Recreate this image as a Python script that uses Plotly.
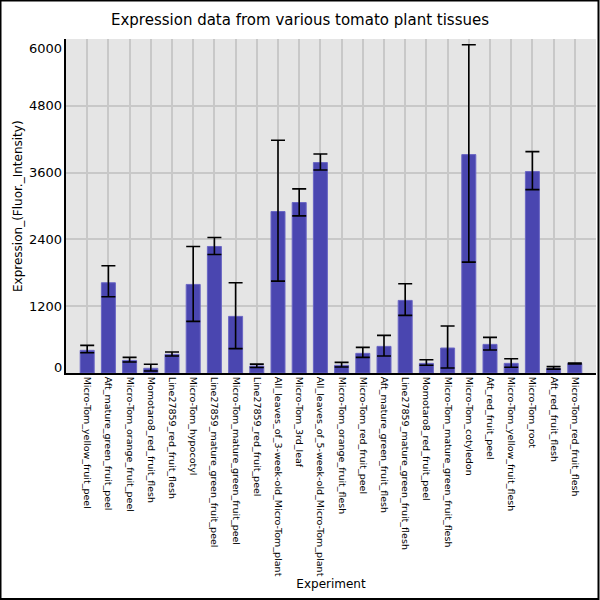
import plotly.graph_objects as go

EXPERIMENTS = [
    "Micro-Tom_yellow_fruit_peel",
    "Aft_mature_green_fruit_peel",
    "Micro-Tom_orange_fruit_peel",
    "Momotaro8_red_fruit_flesh",
    "Line27859_red_fruit_flesh",
    "Micro-Tom_hypocotyl",
    "Line27859_mature_green_fruit_peel",
    "Micro-Tom_mature_green_fruit_peel",
    "Line27859_red_fruit_peel",
    "All_leaves_of_3-week-old_Micro-Tom_plant",
    "Micro-Tom_3rd_leaf",
    "All_leaves_of_5-week-old_Micro-Tom_plant",
    "Micro-Tom_orange_fruit_flesh",
    "Micro-Tom_red_fruit_peel",
    "Aft_mature_green_fruit_flesh",
    "Line27859_mature_green_fruit_flesh",
    "Momotaro8_red_fruit_peel",
    "Micro-Tom_mature_green_fruit_flesh",
    "Micro-Tom_cotyledon",
    "Aft_red_fruit_peel",
    "Micro-Tom_yellow_fruit_flesh",
    "Micro-Tom_root",
    "Aft_red_fruit_flesh",
    "Micro-Tom_red_fruit_flesh",
]

# mean expression and the top / bottom of each error bar
EXPRESSION = [407, 1621, 227, 84, 335, 1591, 2273, 1017, 125, 2901, 3062, 3780,
              138, 353, 478, 1304, 173, 449, 3923, 514, 173, 3618, 80, 173]
ERR_HIGH = [496, 1926, 281, 156, 377, 2273, 2434, 1621, 160, 4181, 3307, 3935,
            191, 461, 676, 1603, 239, 843, 5897, 640, 257, 3977, 115, 180]
ERR_LOW = [365, 1370, 197, 36, 305, 927, 2129, 437, 100, 1651, 2823, 3648,
           108, 281, 305, 1035, 138, 90, 1992, 413, 102, 3295, 70, 162]

Y_TICKS = [0, 1200, 2400, 3600, 4800, 6000]

FONT = "DejaVu Sans"

fig = go.Figure()

fig.add_trace(go.Bar(
    x=EXPERIMENTS,
    y=EXPRESSION,
    width=0.66,
    marker=dict(color="#4a46b0", line=dict(color="#6a66c4", width=1)),
    error_y=dict(
        type="data",
        symmetric=False,
        array=[h - v for h, v in zip(ERR_HIGH, EXPRESSION)],
        arrayminus=[v - l for v, l in zip(EXPRESSION, ERR_LOW)],
        color="black",
        thickness=1.6,
        width=7,
    ),
    showlegend=False,
))

# y tick labels: end labels sit inside the plot range, like the original
shifts = {0: 6, 6000: -9}
for t in Y_TICKS:
    fig.add_annotation(
        x=0, xref="paper", y=t, yref="y",
        text=str(t), showarrow=False,
        xanchor="right", xshift=-2, yshift=shifts.get(t, 0),
        font=dict(family=FONT, size=13, color="black"),
    )

fig.add_annotation(
    x=-48 / 530, xref="paper", y=0.5, yref="paper",
    xanchor="center", yanchor="middle",
    text="Expression_(Fluor._Intensity)", showarrow=False, textangle=-90,
    font=dict(family=FONT, size=12, color="black"),
)

# figure frame
fig.add_shape(
    type="rect", xref="paper", yref="paper",
    x0=(0.5 - 66) / 530, x1=(598.5 - 66) / 530,
    y0=-(227 - 1) / 334, y1=1 + (39 - 0.5) / 334,
    line=dict(color="black", width=2), fillcolor="rgba(0,0,0,0)",
)

fig.update_xaxes(
    range=[-1, 24],
    tickangle=90,
    tickfont=dict(family=FONT, size=9.5, color="black"),
    showgrid=True, gridcolor="#c8c8c8", gridwidth=1.5,
    showline=True, linecolor="black", linewidth=1.5,
    ticks="", title=dict(text="Experiment", font=dict(family=FONT, size=12, color="black"), standoff=2),
)
fig.update_yaxes(
    range=[0, 6000],
    tickvals=Y_TICKS,
    showticklabels=False,
    showgrid=True, gridcolor="#c8c8c8", gridwidth=1.5,
    zeroline=False,
    showline=True, linecolor="black", linewidth=1.5,
    ticks="",
)

fig.update_layout(
    width=600, height=600,
    margin=dict(l=66, r=4, t=39, b=227),
    title=dict(text="Expression data from various tomato plant tissues",
               x=0.5, xanchor="center", y=1 - 20 / 600, yanchor="middle",
               font=dict(family=FONT, size=15, color="black")),
    paper_bgcolor="white",
    plot_bgcolor="#e5e5e5",
    font=dict(family=FONT, color="black"),
)

fig.write_html("out.html", config={"displayModeBar": False},
               post_script="document.body.style.margin='0';")
